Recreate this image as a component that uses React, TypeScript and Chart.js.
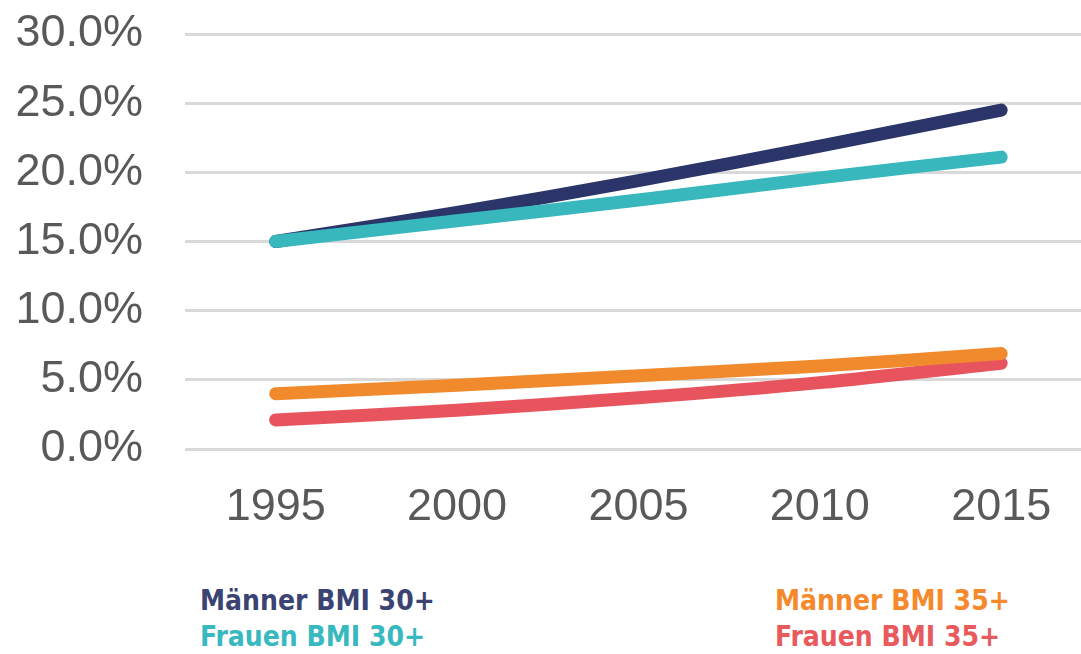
import React, { useEffect, useRef } from "react";
import { Chart, registerables } from "chart.js";

Chart.register(...registerables);

const years = [1995, 2000, 2005, 2010, 2015];
const maennerBmi30 = [15.0, 17.1, 19.4, 21.9, 24.5];
const frauenBmi30 = [15.0, 16.5, 18.0, 19.6, 21.1];
const maennerBmi35 = [4.0, 4.6, 5.3, 6.0, 6.9];
const frauenBmi35 = [2.1, 2.8, 3.7, 4.8, 6.2];
const yTicks = [0, 5, 10, 15, 20, 25, 30];

const seriesNames = ["Frauen BMI 30+", "Männer BMI 30+", "Männer BMI 35+", "Frauen BMI 35+"];
const seriesColors = ["#38b7bd", "#2b3569", "#f08a2c", "#e8545e"];
const legendColors = { m30: "#3a4372", f30: "#38b8bf", m35: "#f5892c", f35: "#e85a5c" };

const tickFont = { family: "'Liberation Sans', Arial, sans-serif", size: 45 };

export default function App() {
  const ref = useRef<HTMLCanvasElement | null>(null);

  useEffect(() => {
    if (!ref.current) return;
    const values = [frauenBmi30, maennerBmi30, maennerBmi35, frauenBmi35];
    const chart = new Chart(ref.current, {
      type: "line",
      data: {
        datasets: values.map((vals, i) => ({
          label: seriesNames[i],
          data: years.map((yr, j) => ({ x: yr, y: vals[j] })),
          borderColor: seriesColors[i],
          backgroundColor: seriesColors[i],
          borderWidth: 13,
          borderCapStyle: "round" as const,
          borderJoinStyle: "round" as const,
          pointRadius: 0,
          tension: 0.3,
          fill: false,
        })),
      },
      options: {
        animation: false,
        responsive: false,
        maintainAspectRatio: false,
        layout: { padding: { top: 34, right: 0, left: 0, bottom: 0 } },
        plugins: { legend: { display: false }, tooltip: { enabled: false } },
        scales: {
          x: {
            type: "linear",
            min: 1992.5,
            max: 2017.2,
            afterBuildTicks: (scale: any) => {
              scale.ticks = years.map((v) => ({ value: v }));
            },
            afterFit: (scale: any) => {
              scale.height = 111;
              scale.paddingLeft = 0;
              scale.paddingRight = 0;
            },
            grid: { display: false },
            border: { display: false },
            ticks: {
              color: "#595959",
              font: tickFont,
              padding: 24,
              maxRotation: 0,
              autoSkip: false,
              callback: (v: any) => String(v),
            },
          },
          y: {
            min: 0,
            max: 30,
            afterBuildTicks: (scale: any) => {
              scale.ticks = yTicks.map((v) => ({ value: v }));
            },
            afterFit: (scale: any) => {
              scale.width = 185;
              scale.paddingTop = 0;
              scale.paddingBottom = 0;
            },
            grid: { color: "#d9d9d9", lineWidth: 3, drawTicks: false },
            border: { display: false },
            ticks: {
              color: "#595959",
              font: tickFont,
              padding: 42,
              autoSkip: false,
              callback: (v: any) => Number(v).toFixed(1) + "%",
            },
          },
        },
      },
    });
    return () => chart.destroy();
  }, []);

  const legendFont: React.CSSProperties = {
    position: "absolute",
    fontFamily: "'DejaVu Sans Condensed', 'DejaVu Sans', sans-serif",
    fontWeight: "bold",
    fontSize: 28,
    lineHeight: "36px",
    whiteSpace: "nowrap",
  };

  return (
    <div style={{ position: "fixed", left: 0, top: 0, width: 1081, height: 654, background: "#fff", overflow: "hidden" }}>
      <canvas ref={ref} width={1081} height={560} style={{ position: "absolute", left: 0, top: 0, width: 1081, height: 560 }} />
      <div style={{ ...legendFont, left: 200, top: 583, color: legendColors.m30 }}>Männer BMI 30+</div>
      <div style={{ ...legendFont, left: 200, top: 619, color: legendColors.f30 }}>Frauen BMI 30+</div>
      <div style={{ ...legendFont, left: 775, top: 583, color: legendColors.m35 }}>Männer BMI 35+</div>
      <div style={{ ...legendFont, left: 775, top: 619, color: legendColors.f35 }}>Frauen BMI 35+</div>
    </div>
  );
}
